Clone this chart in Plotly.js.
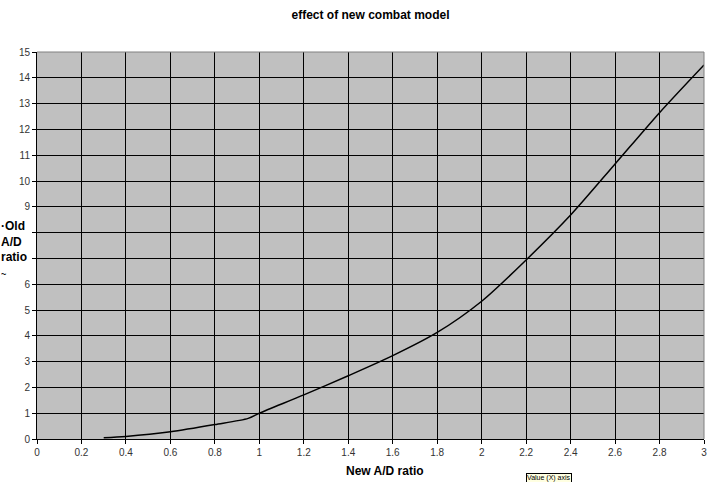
<!DOCTYPE html>
<html>
<head>
<meta charset="utf-8">
<script src="https://cdn.plot.ly/plotly-3.0.1.min.js"></script>
<style>html,body{margin:0;padding:0;background:#fff;}#chart{width:711px;height:482px;}</style>
</head>
<body>
<div id="chart"></div>
<script>
const newRatio = [0.3, 0.4, 0.6, 0.8, 0.95, 1.0, 1.2, 1.4, 1.6, 1.8, 2.0, 2.2, 2.4, 2.6, 2.8, 3.0];
const oldRatio = [0.05, 0.1, 0.28, 0.56, 0.8, 1.0, 1.71, 2.45, 3.23, 4.13, 5.34, 6.94, 8.68, 10.66, 12.65, 14.5];
const chartTitle = "effect of new combat model";
const xTitle = "New A/D ratio";
const yTitleLines = ["·Old", "A/D", "ratio"];
const xTickVals = [0,0.2,0.4,0.6,0.8,1,1.2,1.4,1.6,1.8,2,2.2,2.4,2.6,2.8,3];
const xTickText = ["0","0.2","0.4","0.6","0.8","1","1.2","1.4","1.6","1.8","2","2.2","2.4","2.6","2.8","3"];
const yTickVals = [0,1,2,3,4,5,6,7,8,9,10,11,12,13,14,15];
// labels 7 and 8 are hidden behind the axis title in the reference
const yTickText = ["0","1","2","3","4","5","6","","","9","10","11","12","13","14","15"];

const font = "Liberation Sans, Arial, sans-serif";
const trace = {
  x: newRatio, y: oldRatio, type: "scatter", mode: "lines",
  line: {color: "#000", width: 1.5, shape: "spline", smoothing: 0.8},
  hoverinfo: "none"
};
const layout = {
  width: 711, height: 482,
  margin: {l: 37, r: 7, t: 52, b: 43},
  paper_bgcolor: "#fff", plot_bgcolor: "#c0c0c0",
  showlegend: false,
  title: {text: chartTitle, x: 0.5, xref: "paper", y: 0.97, yanchor: "middle",
          font: {family: font, size: 12, color: "#000", weight: "bold"}},
  xaxis: {range: [0, 3], tickvals: xTickVals, ticktext: xTickText,
          showgrid: true, gridcolor: "#000", gridwidth: 1, zeroline: false,
          showline: true, linecolor: "#000", linewidth: 1,
          ticks: "outside", ticklen: 4, tickcolor: "#000",
          tickfont: {family: font, size: 10, color: "#333"}, fixedrange: true},
  yaxis: {range: [0, 15], tickvals: yTickVals, ticktext: yTickText,
          showgrid: true, gridcolor: "#000", gridwidth: 1, zeroline: false,
          showline: true, linecolor: "#000", linewidth: 1,
          ticks: "outside", ticklen: 4, tickcolor: "#000",
          tickfont: {family: font, size: 10, color: "#333"}, fixedrange: true},
  shapes: [
    {type: "line", xref: "paper", yref: "paper", x0: 0, x1: 1, y0: 1, y1: 1, line: {color: "#808080", width: 1}, layer: "above"},
    {type: "line", xref: "paper", yref: "paper", x0: 1, x1: 1, y0: 0, y1: 1, line: {color: "#808080", width: 1}, layer: "above"}
  ],
  annotations: [
    {text: xTitle, xref: "paper", yref: "paper", x: 0.522, y: -0.083, showarrow: false,
     xanchor: "center", yanchor: "middle", font: {family: font, size: 12, color: "#000", weight: "bold"}},
    {text: yTitleLines.join("<br>") + "<br><span style='font-size:9px'>~</span>",
     xref: "paper", yref: "paper", x: -0.0555, y: 0.57, showarrow: false,
     xanchor: "left", yanchor: "top", align: "left", valign: "top",
     width: 30, height: 60, borderpad: 0,
     font: {family: font, size: 12, color: "#000", weight: "bold"}},
    {text: "Value (X) axis", xref: "paper", yref: "paper", x: 0.733, y: -0.088, showarrow: false,
     xanchor: "left", yanchor: "top", font: {family: font, size: 7, color: "#000"},
     bgcolor: "#ffffe1", bordercolor: "#000", borderwidth: 1, borderpad: 0}
  ]
};
Plotly.newPlot("chart", [trace], layout, {displayModeBar: false, staticPlot: true});
</script>
</body>
</html>
